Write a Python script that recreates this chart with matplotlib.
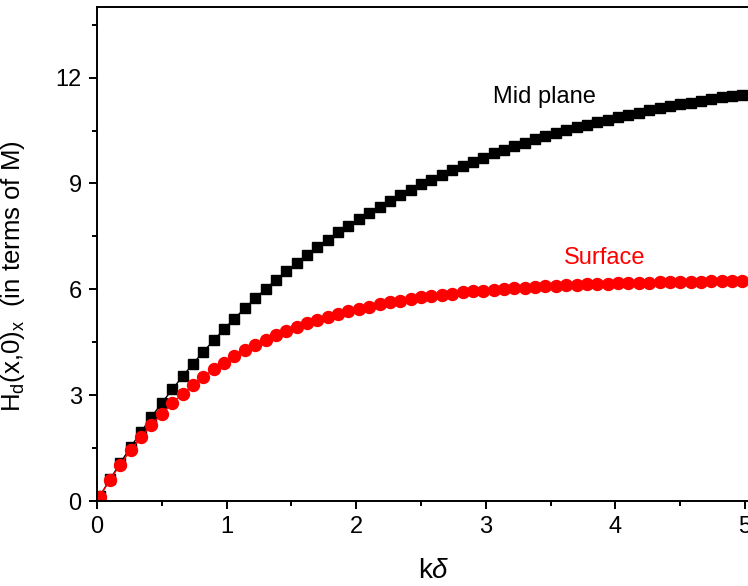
import numpy as np
import matplotlib
matplotlib.use("Agg")
import matplotlib.pyplot as plt
from matplotlib.ticker import MultipleLocator

plt.rcParams['font.family'] = ['Liberation Sans', 'DejaVu Sans']
plt.rcParams['mathtext.fontset'] = 'custom'
plt.rcParams['mathtext.rm'] = 'Liberation Sans'
plt.rcParams['mathtext.it'] = 'Liberation Sans:italic'

k_delta = [0.02, 0.10, 0.18, 0.26, 0.34, 0.42, 0.50, 0.58, 0.66, 0.74,
           0.82, 0.90, 0.98, 1.06, 1.14, 1.22, 1.30, 1.38, 1.46, 1.54,
           1.62, 1.70, 1.78, 1.86, 1.94, 2.02, 2.10, 2.18, 2.26, 2.34,
           2.42, 2.50, 2.58, 2.66, 2.74, 2.82, 2.90, 2.98, 3.06, 3.14,
           3.22, 3.30, 3.38, 3.46, 3.54, 3.62, 3.70, 3.78, 3.86, 3.94,
           4.02, 4.10, 4.18, 4.26, 4.34, 4.42, 4.50, 4.58, 4.66, 4.74,
           4.82, 4.90, 4.98]

mid_plane = [0.13, 0.61, 1.08, 1.53, 1.96, 2.38, 2.78, 3.16, 3.53, 3.89,
             4.23, 4.55, 4.87, 5.17, 5.46, 5.74, 6.01, 6.26, 6.51, 6.75,
             6.98, 7.20, 7.41, 7.61, 7.80, 7.99, 8.17, 8.34, 8.51, 8.67,
             8.82, 8.97, 9.11, 9.24, 9.37, 9.50, 9.62, 9.73, 9.85, 9.95,
             10.05, 10.15, 10.25, 10.34, 10.43, 10.51, 10.59, 10.67, 10.74, 10.81,
             10.88, 10.95, 11.01, 11.07, 11.13, 11.19, 11.24, 11.29, 11.34, 11.39,
             11.44, 11.48, 11.52]

surface = [0.12, 0.60, 1.03, 1.44, 1.81, 2.16, 2.47, 2.77, 3.04, 3.29,
           3.52, 3.73, 3.92, 4.11, 4.27, 4.43, 4.57, 4.70, 4.82, 4.94,
           5.04, 5.14, 5.22, 5.31, 5.38, 5.45, 5.51, 5.57, 5.63, 5.68,
           5.72, 5.77, 5.81, 5.84, 5.88, 5.91, 5.94, 5.96, 5.99, 6.01,
           6.03, 6.05, 6.07, 6.09, 6.10, 6.11, 6.13, 6.14, 6.15, 6.16,
           6.17, 6.18, 6.19, 6.19, 6.20, 6.21, 6.21, 6.22, 6.22, 6.23,
           6.23, 6.24, 6.24]

x_ticks = [0, 1, 2, 3, 4, 5]
y_ticks = [0, 3, 6, 9, 12]

fig = plt.figure(figsize=(7.48, 5.86), dpi=100)
ax = fig.add_axes([97/748, (586-501)/586, (771-97)/748, 494/586])

ax.plot(k_delta, mid_plane, color='black', lw=1.0, marker='s', ms=7.4,
        mec='black', mfc='black', clip_on=True)
ax.plot(k_delta, surface, color='red', lw=1.0, marker='o', ms=8.6,
        mec='red', mfc='red', clip_on=True)

ax.set_xlim(0, 5.2)
ax.set_ylim(0, 14)
ax.set_xticks(x_ticks)
ax.set_yticks(y_ticks)
ax.xaxis.set_minor_locator(MultipleLocator(0.5))
ax.yaxis.set_minor_locator(MultipleLocator(1.5))

for s in ax.spines.values():
    s.set_linewidth(1.4)
ax.tick_params(which='major', direction='out', length=6, width=1.4,
               labelsize=17, pad=5)
ax.tick_params(which='minor', direction='out', length=3.5, width=1.4)
ax.tick_params(top=False, right=False)

ax.text(3.45, 11.45, 'Mid plane', fontsize=17, color='black',
        ha='center', va='center')
ax.text(3.92, 6.89, 'Surface', fontsize=17, color='red',
        ha='center', va='center')

ax.set_xlabel(r'k$\delta$', fontsize=20)
ax.xaxis.set_label_coords(0.5, -(558-501)/494)
ax.set_ylabel(r'H$_\mathrm{d}$(x,0)$_\mathrm{x}$  (in terms of M)', fontsize=18.5)
ax.yaxis.set_label_coords(-(97-27)/674, (501-276)/494)

fig.savefig('out.png', dpi=100)
